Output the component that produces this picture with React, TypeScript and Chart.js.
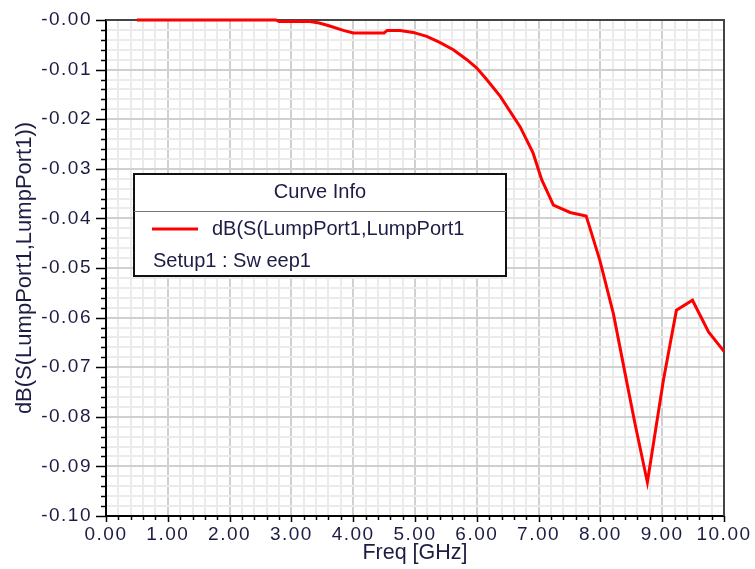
import React, { useEffect, useRef } from 'react';
import { Chart, registerables } from 'chart.js';

Chart.register(...registerables);

const freqGHz = [0.5, 1, 1.5, 2, 2.5, 2.75, 2.8, 3.3, 3.45, 3.62, 3.84, 4.0, 4.5, 4.55, 4.76, 4.97, 5.19, 5.4, 5.62, 5.84, 6.0, 6.16, 6.38, 6.7, 6.91, 7.05, 7.24, 7.51, 7.77, 7.99, 8.21, 8.4, 8.56, 8.76, 9.02, 9.23, 9.49, 9.75, 10.0];
const dBS11 = [0, 0, 0, 0, 0, 0, -0.0003, -0.0003, -0.0006, -0.0012, -0.0021, -0.0026, -0.0026, -0.0021, -0.0021, -0.0025, -0.0033, -0.0045, -0.006, -0.008, -0.0097, -0.012, -0.0154, -0.0215, -0.0268, -0.0322, -0.0373, -0.0388, -0.0395, -0.0484, -0.0592, -0.0713, -0.0814, -0.0932, -0.0726, -0.0585, -0.0565, -0.0629, -0.0668];

const xTickLabels = ['0.00', '1.00', '2.00', '3.00', '4.00', '5.00', '6.00', '7.00', '8.00', '9.00', '10.00'];
const yTickLabels = ['-0.00', '-0.01', '-0.02', '-0.03', '-0.04', '-0.05', '-0.06', '-0.07', '-0.08', '-0.09', '-0.10'];

const xTitle = 'Freq [GHz]';
const yTitle = 'dB(S(LumpPort1,LumpPort1))';
const legendTitle = 'Curve Info';
const seriesName = 'dB(S(LumpPort1,LumpPort1';
const seriesSetup = 'Setup1 : Sw eep1';

const TEXT = '#1c1c44';
const FONT = "'Liberation Sans', Arial, sans-serif";

const isMajor = (v: number, step: number) => Math.abs(v / step - Math.round(v / step)) < 1e-6;

const hfssPlugin = {
  id: 'hfss',
  beforeDraw(chart: any) {
    (chart.ctx as any).letterSpacing = '1.5px';
  },
  beforeDatasetsDraw(chart: any) {
    const ctx = chart.ctx as CanvasRenderingContext2D;
    const { left, right, top, bottom } = chart.chartArea;
    ctx.save();
    ctx.strokeStyle = '#444';
    ctx.lineWidth = 2;
    ctx.beginPath();
    ctx.moveTo(left, top);
    ctx.lineTo(right, top);
    ctx.lineTo(right, bottom);
    ctx.stroke();
    ctx.restore();
  },
  afterDraw(chart: any) {
    const ctx = chart.ctx as CanvasRenderingContext2D;
    ctx.save();
    (ctx as any).letterSpacing = '0px';
    const { left, right, top, bottom } = chart.chartArea;
    const xs = chart.scales.x;
    const ys = chart.scales.y;

    // tick marks
    ctx.strokeStyle = '#000';
    ctx.lineWidth = 1.5;
    ctx.beginPath();
    ys.ticks.forEach((t: any) => {
      const y = Math.round(ys.getPixelForValue(t.value)) + 0.5;
      const len = isMajor(t.value, 0.01) ? 10 : 5;
      ctx.moveTo(left - len, y);
      ctx.lineTo(left, y);
    });
    xs.ticks.forEach((t: any) => {
      const x = Math.round(xs.getPixelForValue(t.value)) + 0.5;
      const len = isMajor(t.value, 1) ? 6 : 4;
      ctx.moveTo(x, bottom);
      ctx.lineTo(x, bottom + len);
    });
    ctx.stroke();

    // axis titles
    ctx.fillStyle = TEXT;
    ctx.textBaseline = 'middle';
    ctx.textAlign = 'center';
    ctx.font = `21.5px ${FONT}`;
    ctx.fillText(xTitle, (left + right) / 2, 553);
    ctx.save();
    ctx.translate(25, (top + bottom) / 2);
    ctx.rotate(-Math.PI / 2);
    ctx.font = `22px ${FONT}`;
    ctx.fillText(yTitle, 0, 0);
    ctx.restore();

    // legend box
    const bx = 134, by = 174, bw = 372, bh = 102;
    ctx.fillStyle = '#fff';
    ctx.fillRect(bx, by, bw, bh);
    ctx.strokeStyle = '#111';
    ctx.lineWidth = 2;
    ctx.strokeRect(bx, by, bw, bh);
    ctx.strokeStyle = '#777';
    ctx.lineWidth = 1;
    ctx.beginPath();
    ctx.moveTo(bx, 211.5);
    ctx.lineTo(bx + bw, 211.5);
    ctx.stroke();
    ctx.fillStyle = TEXT;
    ctx.font = `20px ${FONT}`;
    ctx.textAlign = 'center';
    ctx.fillText(legendTitle, bx + bw / 2, 192);
    ctx.textAlign = 'left';
    ctx.fillText(seriesName, 212, 229);
    ctx.fillText(seriesSetup, 153, 261);
    ctx.strokeStyle = '#ff0000';
    ctx.lineWidth = 3;
    ctx.beginPath();
    ctx.moveTo(152, 229);
    ctx.lineTo(198, 229);
    ctx.stroke();

    ctx.restore();
  },
};

export default function App() {
  const ref = useRef<HTMLCanvasElement | null>(null);

  useEffect(() => {
    if (!ref.current) return;
    const chart = new Chart(ref.current, {
      type: 'line',
      data: {
        datasets: [
          {
            label: seriesName,
            data: freqGHz.map((f, i) => ({ x: f, y: dBS11[i] })),
            borderColor: '#ff0000',
            borderWidth: 3,
            pointRadius: 0,
            tension: 0,
            fill: false,
            clip: 4,
          },
        ],
      },
      options: {
        responsive: false,
        animation: false,
        devicePixelRatio: 1,
        layout: { padding: { left: 0, top: 20, right: 31, bottom: 0 } },
        plugins: { legend: { display: false }, tooltip: { enabled: false } },
        scales: {
          x: {
            type: 'linear',
            min: 0,
            max: 10,
            afterFit: (s: any) => { s.height = 53; s.paddingLeft = 0; s.paddingRight = 0; },
            ticks: {
              stepSize: 0.2,
              autoSkip: false,
              maxRotation: 0,
              padding: 7,
              color: TEXT,
              font: { family: FONT, size: 19 },
              callback: (v: any) => (isMajor(Number(v), 1) ? xTickLabels[Math.round(Number(v))] : ''),
            },
            grid: {
              drawTicks: false,
              lineWidth: 2,
              color: (c: any) => (isMajor(c.tick.value, 1) ? '#d0d0d0' : '#ebebeb'),
            },
            border: { color: '#000', width: 2 },
          },
          y: {
            type: 'linear',
            min: -0.1,
            max: 0,
            afterFit: (s: any) => { s.width = 106; s.paddingTop = 0; s.paddingBottom = 0; },
            ticks: {
              stepSize: 0.002,
              autoSkip: false,
              padding: 14,
              color: TEXT,
              font: { family: FONT, size: 19 },
              callback: (v: any) => (isMajor(Number(v), 0.01) ? yTickLabels[Math.round(-Number(v) / 0.01)] : ''),
            },
            grid: {
              drawTicks: false,
              lineWidth: 2,
              color: (c: any) => (isMajor(c.tick.value, 0.01) ? '#d0d0d0' : '#ebebeb'),
            },
            border: { color: '#000', width: 2 },
          },
        },
      },
      plugins: [hfssPlugin],
    } as any);
    return () => chart.destroy();
  }, []);

  return (
    <div style={{ position: 'fixed', left: 0, top: 0, width: 755, height: 569, background: '#fff' }}>
      <canvas ref={ref} width={755} height={569} style={{ display: 'block', width: 755, height: 569 }} />
    </div>
  );
}
